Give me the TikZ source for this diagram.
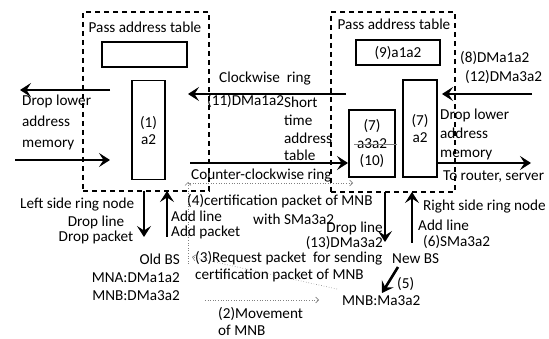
\documentclass[tikz,border=0pt]{standalone}
\usepackage{fontspec}
\setmainfont{Carlito}
\usetikzlibrary{arrows.meta}
\begin{document}
\begin{tikzpicture}[x=1pt,y=-1pt,
  fs/.style={font=\fontsize{15.2}{17}\selectfont},
  lbl/.style={fs, inner sep=0pt},
  box/.style={draw, line width=1.1pt, inner sep=0pt, align=center, fs},
  dbox/.style={draw, line width=1.1pt, dash pattern=on 5pt off 4pt, inner sep=0pt},
  bigarrow/.style={line width=2.6pt, -{Stealth[length=11pt,width=14pt,inset=4.5pt]}},
  dotarrow/.style={gray, line width=0.6pt, dotted, -{Straight Barb[length=3pt,width=6pt]}},
]
\useasboundingbox (0,0) rectangle (549,339);

% dashed ring-node boxes
\node[dbox, minimum width=126, minimum height=179] (L) at (146,101.5) {};
\node[dbox, minimum width=124, minimum height=180] (R) at (393,102) {};

% inner boxes
\node[box, minimum width=85, minimum height=25] (tL) at (144.5,54.5) {};
\node[box, minimum width=84, minimum height=25] (tR) at (398,52.5) {(9)a1a2};
\node[box, minimum width=33, minimum height=99] (mL) at (148.5,130) {(1)\\a2};
\node[box, minimum width=34, minimum height=97] (mR) at (420,128.5) {(7)\\a2};
\node[box, minimum width=46, minimum height=67, font=\fontsize{15.2}{17.5}\selectfont] (sR) at (372,143.5) {(7)\\a3a2\\(10)};
\coordinate (st1) at (354,144); \coordinate (st2) at (397,144);
\draw[gray, line width=0.8pt] (st1) -- (st2);

% texts in boxes' headers
\node[lbl] (ptL) at (145,27) {Pass address table};
\node[lbl] (ptR) at (394,24) {Pass address table};

% thick ring arrows
\coordinate (a1s) at (110,90);  \coordinate (a1e) at (20,90);
\coordinate (a2s) at (15,160);  \coordinate (a2e) at (110,160);
\coordinate (a3s) at (346,94);  \coordinate (a3e) at (188,94);
\coordinate (a4s) at (190,163); \coordinate (a4e) at (348,163);
\coordinate (a5s) at (532,94);  \coordinate (a5e) at (442,94);
\coordinate (a6s) at (437,163); \coordinate (a6e) at (531,163);
\draw[bigarrow] (a1s) -- (a1e);
\draw[bigarrow] (a2s) -- (a2e);
\draw[bigarrow] (a3s) -- (a3e);
\draw[bigarrow] (a4s) -- (a4e);
\draw[bigarrow] (a5s) -- (a5e);
\draw[bigarrow] (a6s) -- (a6e);

% add / drop arrows
\coordinate (d1s) at (144,191); \coordinate (d1e) at (144,237);
\coordinate (u1s) at (167,237); \coordinate (u1e) at (167,191);
\coordinate (d2s) at (385,192); \coordinate (d2e) at (385,242);
\coordinate (u2s) at (412,243); \coordinate (u2e) at (412,192);
\coordinate (nbs) at (398,267); \coordinate (nbe) at (382,293);
\draw[bigarrow] (d1s) -- (d1e);
\draw[bigarrow] (u1s) -- (u1e);
\draw[bigarrow] (d2s) -- (d2e);
\draw[bigarrow] (u2s) -- (u2e);
\draw[bigarrow] (nbs) -- (nbe);

% dotted message arrows
\coordinate (v1s) at (188,264); \coordinate (v1e) at (188,182);
\coordinate (h1s) at (190,183); \coordinate (h1e) at (353,183);
\coordinate (r3s) at (337,289); \coordinate (r3e) at (192,257);
\coordinate (m2s) at (205,300); \coordinate (m2e) at (319,300);
\draw[dotarrow] (v1s) -- (v1e);
\draw[dotarrow] (h1s) -- (h1e);
\draw[dotarrow] (r3s) -- (r3e);
\draw[dotarrow] (m2s) -- (m2e);

% labels
\node[lbl, anchor=west] (cw) at (219,79) {Clockwise\ \ ring};
\node[lbl, anchor=west] (l11) at (207,101) {(11)DMa1a2};
\node[lbl, anchor=west] (l8) at (460,58) {(8)DMa1a2};
\node[lbl, anchor=west] (l12) at (465,77) {(12)DMa3a2};
\node[lbl, anchor=west, align=left, font=\fontsize{15.2}{21}\selectfont] (dlL) at (22,122) {Drop lower\\address\\memory};
\node[lbl, anchor=west, align=left, font=\fontsize{15.2}{19}\selectfont] (dlR) at (440,134) {Drop lower\\address\\memory};
\node[lbl, anchor=west, align=left, font=\fontsize{15.2}{17.7}\selectfont] (stt) at (284,129) {Short\\time\\address\\table};
\node[lbl, anchor=west] (ccw) at (191,176) {Counter-clockwise ring};
\node[lbl, anchor=west] (rt) at (443,177) {To router, server};

\node[lbl, anchor=west] (lsn) at (20,205) {Left side ring node};
\node[lbl, align=center, font=\fontsize{15.2}{15.5}\selectfont] (dpL) at (96,230) {Drop line\\Drop packet};
\node[lbl, anchor=west, align=left, font=\fontsize{15.2}{15.5}\selectfont] (apL) at (171,225) {Add line\\Add packet};
\node[lbl, anchor=east, align=right, font=\fontsize{15.2}{18}\selectfont] (obs) at (180,277) {Old BS\\MNA:DMa1a2\\MNB:DMa3a2};

\node[lbl, anchor=west] (c4) at (187,201) {(4)certification packet of MNB};
\node[lbl, anchor=west] (c4b) at (253,219) {with SMa3a2};
\node[lbl, anchor=east, align=right, font=\fontsize{15.2}{15}\selectfont] (dpR) at (383,236) {Drop line\\(13)DMa3a2};
\node[lbl, anchor=west] (r3a) at (195,258) {(3)Request packet\ \ for sending};
\node[lbl, anchor=west] (r3b) at (195,275) {certification packet of MNB};

\node[lbl, anchor=west] (rsn) at (423,207) {Right side ring node};
\node[lbl, anchor=west] (alR) at (418,225) {Add line};
\node[lbl, anchor=west] (s6) at (423,242) {(6)SMa3a2};
\node[lbl, anchor=west] (nbsl) at (392,259) {New BS};
\node[lbl, anchor=west] (l5) at (397,284) {(5)};
\node[lbl, anchor=west] (mnb) at (342,301) {MNB:Ma3a2};
\node[lbl, anchor=west, align=left, font=\fontsize{15.2}{17}\selectfont] (mv) at (218,321) {(2)Movement\\of MNB};
\end{tikzpicture}
\end{document}
